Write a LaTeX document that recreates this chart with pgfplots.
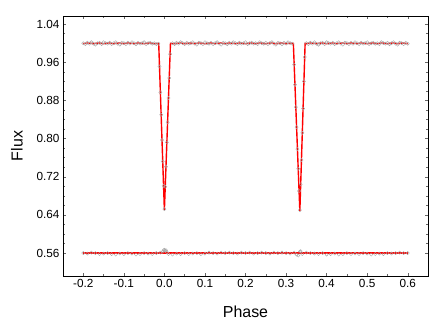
\documentclass[border=0pt]{standalone}
\usepackage{pgfplots}
\pgfplotsset{compat=1.18}
\usepackage{pgfplotstable}
\usepackage{fontspec}
\setmainfont{Liberation Sans}

% observed light curve
\pgfplotstableread{
x y
-0.200 1.000
-0.195 0.998
-0.190 1.001
-0.185 0.999
-0.180 1.002
-0.175 0.999
-0.170 0.997
-0.165 1.000
-0.160 1.001
-0.155 0.998
-0.150 1.002
-0.145 1.000
-0.140 0.999
-0.135 1.001
-0.130 0.998
-0.125 1.000
-0.120 1.002
-0.115 0.999
-0.110 0.997
-0.105 1.001
-0.100 1.000
-0.095 0.998
-0.090 1.001
-0.085 0.999
-0.080 1.002
-0.075 1.000
-0.070 0.998
-0.065 1.001
-0.060 0.999
-0.055 1.000
-0.050 1.002
-0.045 0.998
-0.040 1.000
-0.035 1.001
-0.030 0.999
-0.025 1.000
-0.020 0.998
-0.015 0.999
-0.012 0.951
-0.010 0.897
-0.008 0.850
-0.006 0.797
-0.004 0.752
-0.002 0.701
0.000 0.652
0.002 0.699
0.004 0.741
0.006 0.792
0.008 0.834
0.010 0.885
0.012 0.927
0.014 0.977
0.020 1.000
0.025 0.998
0.030 1.001
0.035 0.999
0.040 1.002
0.045 1.000
0.050 0.998
0.055 1.001
0.060 0.999
0.065 1.000
0.070 1.002
0.075 0.999
0.080 0.997
0.085 1.001
0.090 1.000
0.095 0.998
0.100 1.002
0.105 1.000
0.110 0.999
0.115 1.001
0.120 0.998
0.125 1.000
0.130 1.002
0.135 0.999
0.140 0.997
0.145 1.001
0.150 1.000
0.155 0.998
0.160 1.001
0.165 0.999
0.170 1.002
0.175 1.000
0.180 0.998
0.185 1.001
0.190 0.999
0.195 1.000
0.200 1.002
0.205 0.998
0.210 1.000
0.215 1.001
0.220 0.999
0.225 1.000
0.230 0.998
0.235 1.002
0.240 1.000
0.245 0.999
0.250 1.001
0.255 0.998
0.260 1.000
0.265 1.002
0.270 0.999
0.275 0.997
0.280 1.001
0.285 1.000
0.290 0.998
0.295 1.001
0.300 0.999
0.305 1.002
0.310 1.000
0.315 0.999
0.320 0.955
0.322 0.913
0.324 0.866
0.326 0.824
0.328 0.778
0.330 0.737
0.332 0.690
0.334 0.650
0.336 0.704
0.338 0.755
0.340 0.812
0.342 0.863
0.344 0.920
0.346 0.971
0.350 1.000
0.355 0.998
0.360 1.001
0.365 0.999
0.370 1.002
0.375 0.999
0.380 0.997
0.385 1.000
0.390 1.001
0.395 0.998
0.400 1.002
0.405 1.000
0.410 0.999
0.415 1.001
0.420 0.998
0.425 1.000
0.430 1.002
0.435 0.999
0.440 0.997
0.445 1.001
0.450 1.000
0.455 0.998
0.460 1.001
0.465 0.999
0.470 1.002
0.475 1.000
0.480 0.998
0.485 1.001
0.490 0.999
0.495 1.000
0.500 1.002
0.505 0.998
0.510 1.000
0.515 1.001
0.520 0.999
0.525 1.000
0.530 0.998
0.535 1.002
0.540 1.000
0.545 0.999
0.550 1.001
0.555 0.998
0.560 1.000
0.565 1.002
0.570 0.999
0.575 0.997
0.580 1.001
0.585 1.000
0.590 0.998
0.595 1.001
0.600 0.999
}\obsdata

% fitted model
\pgfplotstableread{
x y
-0.2000 0.9990
-0.1875 1.0005
-0.1750 0.9990
-0.1625 1.0005
-0.1500 0.9990
-0.1375 1.0005
-0.1250 0.9990
-0.1125 1.0005
-0.1000 0.9990
-0.0875 1.0005
-0.0750 0.9990
-0.0625 1.0005
-0.0500 0.9990
-0.0375 1.0005
-0.0250 0.9990
-0.0140 0.9995
0.0000 0.6500
0.0150 0.9995
0.0250 0.9990
0.0375 1.0005
0.0500 0.9990
0.0625 1.0005
0.0750 0.9990
0.0875 1.0005
0.1000 0.9990
0.1125 1.0005
0.1250 0.9990
0.1375 1.0005
0.1500 0.9990
0.1625 1.0005
0.1750 0.9990
0.1875 1.0005
0.2000 0.9990
0.2125 1.0005
0.2250 0.9990
0.2375 1.0005
0.2500 0.9990
0.2625 1.0005
0.2750 0.9990
0.2875 1.0005
0.3000 0.9990
0.3100 1.0000
0.3180 0.9995
0.3340 0.6480
0.3470 0.9995
0.3500 0.9990
0.3625 1.0005
0.3750 0.9990
0.3875 1.0005
0.4000 0.9990
0.4125 1.0005
0.4250 0.9990
0.4375 1.0005
0.4500 0.9990
0.4625 1.0005
0.4750 0.9990
0.4875 1.0005
0.5000 0.9990
0.5125 1.0005
0.5250 0.9990
0.5375 1.0005
0.5500 0.9990
0.5625 1.0005
0.5750 0.9990
0.5875 1.0005
0.6000 0.9990
}\modeldata

% residuals (shifted to 0.56)
\pgfplotstableread{
x y
-0.200 0.560
-0.190 0.559
-0.180 0.561
-0.170 0.560
-0.160 0.558
-0.150 0.559
-0.140 0.560
-0.130 0.558
-0.120 0.557
-0.110 0.559
-0.100 0.558
-0.090 0.560
-0.080 0.559
-0.070 0.557
-0.060 0.558
-0.050 0.560
-0.040 0.559
-0.030 0.558
-0.020 0.560
-0.010 0.561
-0.004 0.563
-0.002 0.566
0.000 0.567
0.002 0.565
0.004 0.566
0.006 0.562
0.010 0.558
0.020 0.557
0.030 0.559
0.040 0.558
0.050 0.560
0.060 0.558
0.070 0.559
0.080 0.560
0.090 0.558
0.100 0.559
0.110 0.561
0.120 0.560
0.130 0.559
0.140 0.561
0.150 0.560
0.160 0.561
0.170 0.560
0.180 0.559
0.190 0.561
0.200 0.560
0.210 0.561
0.220 0.559
0.230 0.560
0.240 0.561
0.250 0.560
0.260 0.559
0.270 0.561
0.280 0.560
0.290 0.561
0.300 0.560
0.310 0.559
0.320 0.561
0.326 0.557
0.330 0.555
0.334 0.563
0.336 0.564
0.340 0.558
0.350 0.561
0.360 0.560
0.370 0.559
0.380 0.558
0.390 0.560
0.400 0.557
0.410 0.558
0.420 0.559
0.430 0.557
0.440 0.558
0.450 0.560
0.460 0.558
0.470 0.559
0.480 0.558
0.490 0.560
0.500 0.559
0.510 0.557
0.520 0.558
0.530 0.559
0.540 0.558
0.550 0.560
0.560 0.559
0.570 0.560
0.580 0.561
0.590 0.560
0.600 0.560
}\residdata

\begin{document}
\begin{tikzpicture}
\path (0bp,0bp) rectangle (436bp,327bp);
\begin{axis}[
  at={(63bp,51bp)}, anchor=south west,
  scale only axis, width=365bp, height=260bp,
  xmin=-0.25, xmax=0.65, ymin=0.512, ymax=1.057,
  xtick={-0.2,-0.1,0,0.1,0.2,0.3,0.4,0.5,0.6},
  xticklabels={-0.2,-0.1,0.0,0.1,0.2,0.3,0.4,0.5,0.6},
  ytick={0.56,0.64,0.72,0.80,0.88,0.96,1.04},
  yticklabels={0.56,0.64,0.72,0.80,0.88,0.96,1.04},
  minor x tick num=1, minor y tick num=3,
  tick align=inside, major tick length=3bp, minor tick length=2bp,
  tick style={black!60, thin},
  axis line style={black, line width=0.8pt},
  tick label style={font=\fontsize{11.8}{13}\selectfont},
  label style={font=\fontsize{16}{18}\selectfont},
  xlabel={Phase}, ylabel={Flux},
  xlabel style={anchor=center, at={(axis description cs:0.5,-0.138)}},
  ylabel style={anchor=center, at={(axis description cs:-0.126,0.5)}},
]
  \addplot[only marks, mark=o, mark size=1.6bp, black!35, mark options={line width=0.4pt}] table {\obsdata};
  \addplot[only marks, mark=o, mark size=1.6bp, black!35, mark options={line width=0.4pt}] table {\residdata};
  \addplot[red, line width=1.4pt] table {\modeldata};
  \addplot[red, line width=1.4pt] coordinates {(-0.2,0.560) (0.6,0.560)};
\end{axis}
\end{tikzpicture}
\end{document}
